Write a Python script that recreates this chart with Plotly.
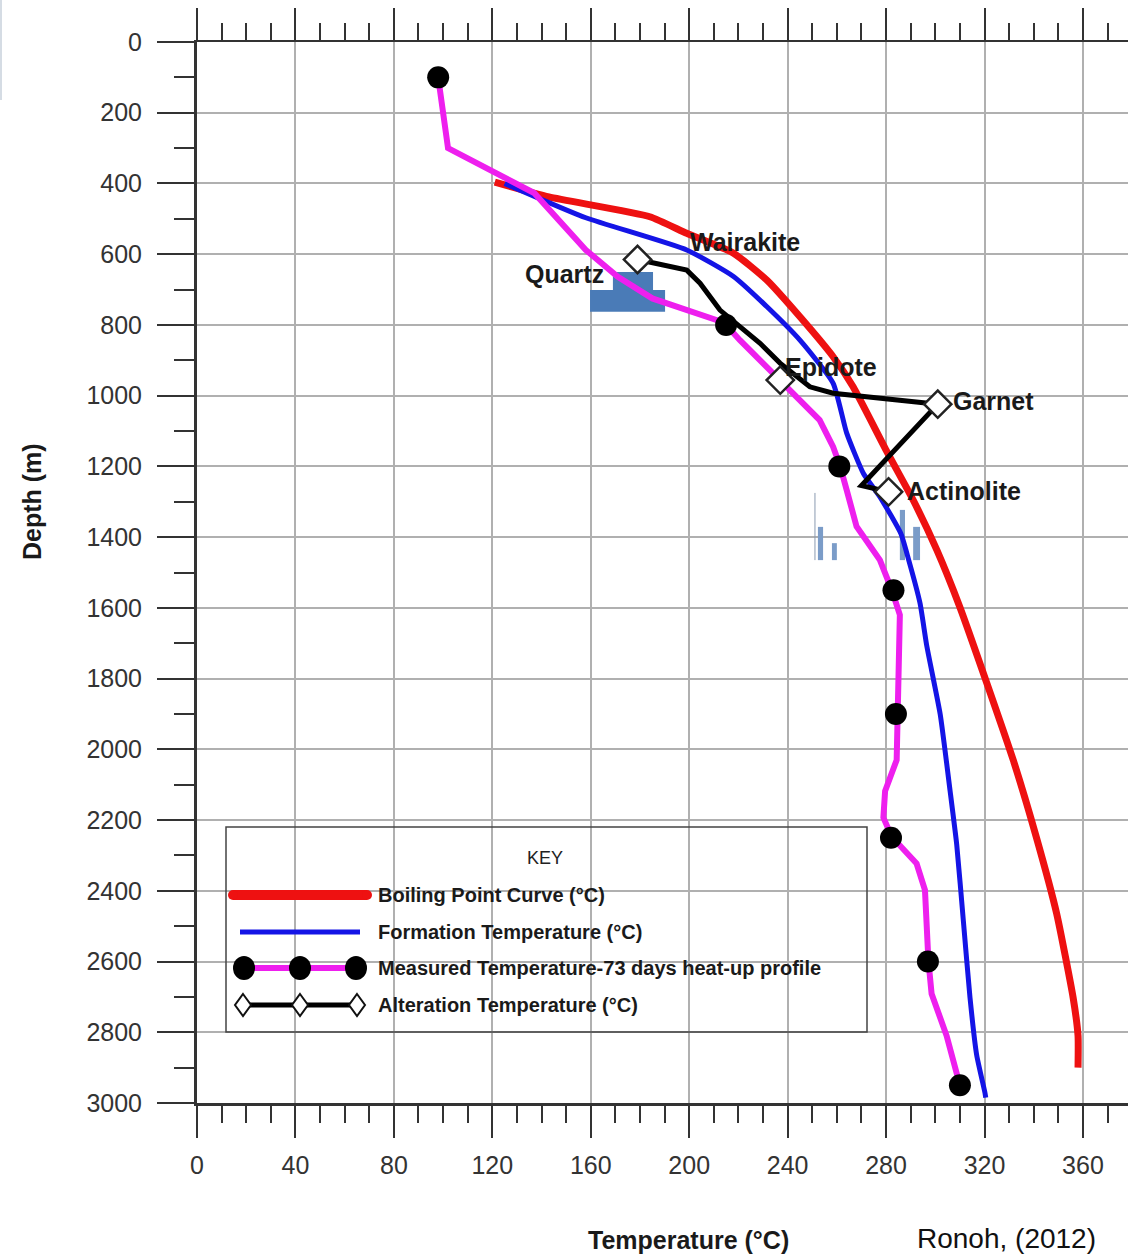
import plotly.graph_objects as go

# ---------------- data ----------------
boil_T = [121, 143, 184, 199, 218, 231.5, 245, 258.5, 266.6, 280, 291, 300.6, 310, 321, 331.7, 341, 349.3, 356, 358, 358]
boil_D = [396, 438, 494, 541, 597, 673, 777, 890, 975, 1154, 1295, 1436, 1598, 1814, 2031, 2247, 2464, 2702, 2810, 2900]

form_T = [125, 158, 199, 218, 231.5, 245, 258.5, 264, 270.8, 277.5, 286, 289, 293.8, 296.5, 302, 306, 308.7, 311.4, 314.1, 316.8, 320.2, 320.5]
form_D = [400, 497, 588, 663, 748, 843, 965, 1106, 1220, 1286, 1390, 1460, 1587, 1706, 1901, 2117, 2269, 2485, 2702, 2864, 2972, 2985]

meas_T = [98, 102, 137, 158, 171, 185, 211, 215, 220.6, 231.5, 245, 253, 258.5, 261.3, 264, 268, 277.5, 282.3,
          285.6, 285, 284.3, 284.3, 279.6, 278.9, 282.3, 292.4, 295.8, 296.5, 297.2, 298.5, 304.6, 309.8]
meas_D = [100, 300, 427, 588, 664, 725, 786, 800, 843, 918, 1012, 1069, 1145, 1199, 1267, 1370, 1465, 1549,
          1620, 1793, 1900, 2030, 2118, 2193, 2247, 2323, 2398, 2528, 2598, 2691, 2810, 2945]
dot_T = [98, 215, 261, 283, 284, 282, 297, 310]
dot_D = [100, 800, 1200, 1550, 1900, 2250, 2600, 2950]

alt_T = [179, 199, 204.4, 212.5, 220.6, 228.8, 236.9, 242, 249, 258.5, 285.6, 301, 270, 281]
alt_D = [615, 645, 682, 758, 805, 852, 908, 937, 975, 993, 1012, 1024, 1254, 1272]
mineral_names = ["Quartz", "Epidote", "Garnet", "Actinolite"]
mineral_T = [179, 237, 301, 281]
mineral_D = [615, 956, 1024, 1272]
label_names = ["Wairakite", "Quartz", "Epidote", "Garnet", "Actinolite"]
label_T = [199.5, 132.5, 238.1, 306.4, 287.7]
label_D = [565, 656, 919, 1015, 1270]

x_ticks = list(range(0, 361, 40))
y_ticks = list(range(0, 3001, 200))

# ---------------- layout helpers ----------------
W, H = 1128, 1254
L, R, T, B = 197, 1128, 42, 1103   # plot area in pixels
X_MAX = 378.3


def P(px, py):
    return (px - L) / (R - L), (B - py) / (B - T)


FONT = "Liberation Sans, Arial, sans-serif"
AX = "#333333"
GRID = "#b0b0b0"

fig = go.Figure()

fig.add_trace(go.Scatter(x=boil_T, y=boil_D, mode="lines",
                         line=dict(color="#ee1111", width=7, shape="spline", smoothing=0.5),
                         showlegend=False, hoverinfo="skip"))
fig.add_trace(go.Scatter(x=form_T, y=form_D, mode="lines",
                         line=dict(color="#1414e6", width=5, shape="spline", smoothing=0.5),
                         showlegend=False, hoverinfo="skip"))
fig.add_trace(go.Scatter(x=meas_T, y=meas_D, mode="lines", line=dict(color="#ee1fee", width=6),
                         showlegend=False, hoverinfo="skip"))
fig.add_trace(go.Scatter(x=dot_T, y=dot_D, mode="markers",
                         marker=dict(color="black", size=22, symbol="circle"),
                         showlegend=False, hoverinfo="skip"))
fig.add_trace(go.Scatter(x=alt_T, y=alt_D, mode="lines", line=dict(color="black", width=5),
                         showlegend=False, hoverinfo="skip"))
fig.add_trace(go.Scatter(x=mineral_T, y=mineral_D, mode="markers", text=mineral_names,
                         marker=dict(symbol="diamond", size=21, color="white",
                                     line=dict(color="#222222", width=2.5)),
                         showlegend=False, hoverinfo="skip"))
# carrier for top axis
fig.add_trace(go.Scatter(x=[], y=[], xaxis="x2", yaxis="y", showlegend=False))

shapes = []
# blue block artefacts (embedded picture remnants)
BLK = "#4a7bb7"
for x0, x1, y0, y1 in [(159.7, 190.2, 701, 763), (169, 185.3, 650, 701)]:
    shapes.append(dict(type="rect", xref="x", yref="y", x0=x0, x1=x1, y0=y0, y1=y1,
                       fillcolor=BLK, line=dict(width=0), layer="between"))
for x0, x1, y0, y1 in [(252.3, 254.4, 1371, 1465), (258, 260, 1417, 1465),
                       (285.6, 287.7, 1323, 1465), (291, 293.8, 1371, 1465)]:
    shapes.append(dict(type="rect", xref="x", yref="y", x0=x0, x1=x1, y0=y0, y1=y1,
                       fillcolor="#7b9cc8", line=dict(width=0), layer="between"))
shapes.append(dict(type="line", xref="x", yref="y", x0=251.1, x1=251.1, y0=1275, y1=1465,
                   line=dict(color="#8a9ab0", width=1), layer="between"))

# legend box
x0, y0 = P(226, 1032)
x1, y1 = P(867, 827)
shapes.append(dict(type="rect", xref="paper", yref="paper", x0=x0, y0=y0, x1=x1, y1=y1,
                   line=dict(color="#444444", width=1.5), fillcolor="rgba(0,0,0,0)", layer="above"))


def hline(pxa, pxb, py, color, width):
    a = P(pxa, py)
    b = P(pxb, py)
    shapes.append(dict(type="line", xref="paper", yref="paper", x0=a[0], y0=a[1], x1=b[0], y1=b[1],
                       line=dict(color=color, width=width), layer="above"))


def ellipse(cx, cy, rx, ry, fill, lc, lw):
    a = P(cx - rx, cy + ry)
    b = P(cx + rx, cy - ry)
    shapes.append(dict(type="circle", xref="paper", yref="paper", x0=a[0], y0=a[1], x1=b[0], y1=b[1],
                       fillcolor=fill, line=dict(color=lc, width=lw), layer="above"))


def diamond(cx, cy, hw, hh):
    pts = [P(cx, cy - hh), P(cx + hw, cy), P(cx, cy + hh), P(cx - hw, cy)]
    path = "M " + " L ".join(f"{p[0]},{p[1]}" for p in pts) + " Z"
    shapes.append(dict(type="path", xref="paper", yref="paper", path=path,
                       fillcolor="white", line=dict(color="#111111", width=2), layer="above"))


# Boiling
hline(233, 367, 895, "#ee1111", 10)
ellipse(233, 895, 5, 5, "#ee1111", "#ee1111", 0)
ellipse(367, 895, 5, 5, "#ee1111", "#ee1111", 0)
# Formation
hline(240, 360, 932, "#1414e6", 5)
# Measured
hline(244, 356, 968, "#ee1fee", 6)
for cx in (244, 300, 356):
    ellipse(cx, 968, 11, 12, "black", "black", 0)
# Alteration
hline(243, 357, 1005, "black", 5)
for cx in (243, 300, 357):
    diamond(cx, 1005, 8, 11)

# top-left faint edge
a = P(1, 0)
b = P(1, 100)
shapes.append(dict(type="line", xref="paper", yref="paper", x0=a[0], y0=a[1], x1=b[0], y1=b[1],
                   line=dict(color="#d5dce4", width=2)))

annotations = []
for name, tx, dy in zip(label_names, label_T, label_D):
    annotations.append(dict(x=tx, y=dy, xref="x", yref="y", text=f"<b>{name}</b>", showarrow=False,
                            xanchor="left", yanchor="middle",
                            font=dict(family=FONT, size=25, color="#1a1a1a")))

legend_texts = ["Boiling Point Curve (°C)", "Formation Temperature (°C)",
                "Measured Temperature-73 days heat-up profile", "Alteration Temperature (°C)"]
for txt, py in zip(legend_texts, [895, 932, 968, 1005]):
    px_, py_ = P(376, py)
    annotations.append(dict(x=px_, y=py_, xref="paper", yref="paper", text=f"<b>{txt}</b>",
                            showarrow=False, xanchor="left", yanchor="middle",
                            font=dict(family=FONT, size=20, color="#1a1a1a")))
kx, ky = P(545, 858)
annotations.append(dict(x=kx, y=ky, xref="paper", yref="paper", text="KEY", showarrow=False,
                        xanchor="center", yanchor="middle", font=dict(family=FONT, size=18, color="#222")))

tx, ty = P(32, 502)
annotations.append(dict(x=tx, y=ty, xref="paper", yref="paper", text="<b>Depth (m)</b>", textangle=-90,
                        showarrow=False, xanchor="center", yanchor="middle",
                        font=dict(family=FONT, size=25, color="#1a1a1a")))
tx, ty = P(688, 1240)
annotations.append(dict(x=tx, y=ty, xref="paper", yref="paper", text="<b>Temperature (°C)</b>",
                        showarrow=False, xanchor="center", yanchor="middle",
                        font=dict(family=FONT, size=25, color="#1a1a1a")))
tx, ty = P(1006, 1238)
annotations.append(dict(x=tx, y=ty, xref="paper", yref="paper", text="Ronoh, (2012)",
                        showarrow=False, xanchor="center", yanchor="middle",
                        font=dict(family=FONT, size=28, color="#111111")))

fig.update_layout(
    width=W, height=H,
    margin=dict(l=L, r=W - R, t=T, b=H - B, pad=0),
    paper_bgcolor="white", plot_bgcolor="white",
    showlegend=False,
    font=dict(family=FONT, size=25, color=AX),
    xaxis=dict(range=[0, X_MAX], tickmode="array", tickvals=x_ticks, ticktext=[str(v) for v in x_ticks],
               ticks="outside", ticklen=32, tickwidth=2, tickcolor=AX,
               minor=dict(dtick=10, ticks="outside", ticklen=17, tickwidth=1.5, tickcolor=AX, showgrid=False),
               showgrid=True, gridcolor=GRID, gridwidth=1.5, zeroline=False,
               showline=True, linecolor=AX, linewidth=3, ticklabelstandoff=6,
               tickfont=dict(family=FONT, size=25, color=AX)),
    xaxis2=dict(range=[0, X_MAX], overlaying="x", side="top", anchor="y",
                tickmode="linear", tick0=0, dtick=40,
                ticks="outside", ticklen=32, tickwidth=2, tickcolor=AX,
                minor=dict(dtick=10, ticks="outside", ticklen=17, tickwidth=1.5, tickcolor=AX, showgrid=False),
                showticklabels=False, showgrid=False, zeroline=False,
                showline=True, linecolor=AX, linewidth=2),
    yaxis=dict(range=[3000, 0], tickmode="array", tickvals=y_ticks, ticktext=[str(v) for v in y_ticks],
               ticks="outside", ticklen=37, tickwidth=2, tickcolor=AX,
               minor=dict(dtick=100, ticks="outside", ticklen=20, tickwidth=2, tickcolor=AX, showgrid=False),
               showgrid=True, gridcolor=GRID, gridwidth=1.5, zeroline=False,
               showline=True, linecolor=AX, linewidth=3, ticklabelstandoff=10,
               tickfont=dict(family=FONT, size=25, color=AX)),
    shapes=shapes,
    annotations=annotations,
)

fig.write_html("out.html")
